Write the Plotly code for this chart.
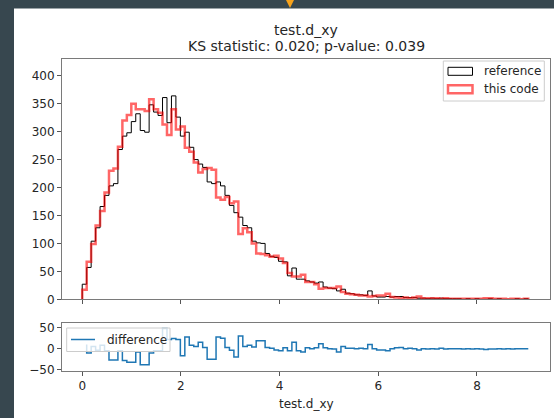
import numpy as np
import plotly.graph_objects as go

# ---------------- data ----------------
BIN_MIN = 0.0
BIN_MAX = 9.04
N_BINS = 100

reference_counts = [
    27, 57, 104, 128, 166, 186, 203, 207, 268, 292,
    298, 318, 332, 302, 299, 348, 335, 329, 361, 316,
    364, 326, 292, 299, 272, 250, 242, 236, 210, 207,
    210, 203, 186, 168, 155, 147, 132, 128, 104, 101,
    100, 82, 77, 75, 68, 67, 42, 56, 36, 36,
    33, 31, 29, 31, 22, 20, 19, 15, 18, 11,
    10, 8, 8, 7, 15, 6, 4, 4, 5, 4,
    5, 5, 3, 3, 3, 2, 2, 1, 2, 1,
    2, 1, 1, 1, 1, 0, 1, 0, 1, 0,
    0, 1, 0, 1, 0, 0, 0, 1, 0, 1,
]
this_code_counts = [
    17, 67, 99, 132, 158, 191, 230, 234, 273, 320,
    330, 350, 340, 340, 337, 358, 340, 334, 313, 294,
    340, 304, 309, 271, 264, 245, 227, 233, 235, 232,
    182, 178, 183, 172, 175, 117, 127, 120, 100, 82,
    81, 79, 76, 78, 73, 65, 47, 41, 41, 44,
    31, 31, 27, 19, 20, 20, 20, 23, 13, 10,
    9, 8, 7, 7, 5, 6, 7, 7, 10, 4,
    3, 2, 3, 2, 3, 5, 2, 2, 2, 2,
    1, 2, 1, 1, 1, 1, 1, 1, 1, 1,
    2, 2, 1, 1, 1, 0, 1, 1, 0, 1,
]

title_line1 = "test.d_xy"
title_line2 = "KS statistic: 0.020; p-value: 0.039"
x_label = "test.d_xy"
legend_labels = ["reference", "this code", "difference"]
x_ticks = [0, 2, 4, 6, 8]
y_ticks_main = [0, 50, 100, 150, 200, 250, 300, 350, 400]
y_ticks_diff = [-50, 0, 50]
y_ticks_diff_text = ["\u221250", "0", "50"]

# ---------------- derived ----------------
edges = np.linspace(BIN_MIN, BIN_MAX, N_BINS + 1)
ref = np.array(reference_counts, dtype=float)
cur = np.array(this_code_counts, dtype=float)
difference = ref - cur


def step_outline(counts):
    xs = np.concatenate([[edges[0]], edges[:-1], [edges[-1]]])
    ys = np.concatenate([[0.0], counts, [0.0]])
    return xs, ys


# ---------------- layout geometry ----------------
W, H = 554, 418
ML, MR, MT, MB = 62, 4, 59, 47
PW = W - ML - MR
PH = H - MT - MB
MAIN_BOTTOM_PX = 299.3
DIFF_TOP_PX = 323.0


def px_x(px):
    return (px - ML) / PW


def px_y(py):
    return (H - MB - py) / PH


FONT = "DejaVu Sans"
TXT = "#262626"
SPINE = "#7a7a7a"
DARK_BG = "#37474f"
RED = "rgba(255,0,0,0.6)"
BLUE = "#1f77b4"

fig = go.Figure()

rx, ry = step_outline(ref)
fig.add_trace(go.Scatter(x=rx, y=ry, mode="lines", line=dict(color="black", width=1, shape="hv"),
                         name=legend_labels[0], showlegend=False, xaxis="x", yaxis="y"))
cx, cy = step_outline(cur)
fig.add_trace(go.Scatter(x=cx, y=cy, mode="lines", line=dict(color=RED, width=2.5, shape="hv"),
                         name=legend_labels[1], showlegend=False, xaxis="x", yaxis="y"))
fig.add_trace(go.Scatter(x=edges[1:], y=difference, mode="lines",
                         line=dict(color=BLUE, width=1.5, shape="vh"),
                         name=legend_labels[2], showlegend=False, xaxis="x2", yaxis="y2"))

axis_common = dict(showgrid=False, zeroline=False, showline=True, mirror=True,
                   linecolor=SPINE, linewidth=1, ticks="outside", ticklen=4,
                   tickwidth=1, tickcolor="#555555",
                   tickfont=dict(family=FONT, size=12, color=TXT))

shapes = []
annotations = []

# white panel over dark page background, and the small orange marker on top
shapes.append(dict(type="rect", xref="paper", yref="paper", layer="below",
                   x0=px_x(14), x1=px_x(560), y0=px_y(8.5), y1=px_y(430),
                   fillcolor="white", line=dict(width=0)))
shapes.append(dict(type="path", xref="paper", yref="paper", layer="above",
                   path="M {a},{b} L {c},{b} L {d},{e} Z".format(
                       a=px_x(286), c=px_x(294), b=px_y(0), d=px_x(290), e=px_y(8)),
                   fillcolor="#f7a21b", line=dict(width=0)))

# titles
annotations.append(dict(text=title_line1, xref="paper", yref="paper", x=0.5, y=px_y(30),
                        showarrow=False, xanchor="center", yanchor="middle",
                        font=dict(family=FONT, size=14, color=TXT)))
annotations.append(dict(text=title_line2, xref="paper", yref="paper", x=0.5, y=px_y(46),
                        showarrow=False, xanchor="center", yanchor="middle",
                        font=dict(family=FONT, size=14, color=TXT)))

# main legend
shapes.append(dict(type="rect", xref="paper", yref="paper", layer="above",
                   x0=px_x(443.3), x1=px_x(544.3), y0=px_y(101), y1=px_y(61),
                   fillcolor="rgba(255,255,255,0.8)", line=dict(color="#cccccc", width=1)))
shapes.append(dict(type="rect", xref="paper", yref="paper", layer="above",
                   x0=px_x(448), x1=px_x(472.5), y0=px_y(75.3), y1=px_y(67.3),
                   fillcolor="rgba(0,0,0,0)", line=dict(color="black", width=1)))
shapes.append(dict(type="rect", xref="paper", yref="paper", layer="above",
                   x0=px_x(448), x1=px_x(472.5), y0=px_y(93.3), y1=px_y(85.3),
                   fillcolor="rgba(0,0,0,0)", line=dict(color=RED, width=2.5)))
annotations.append(dict(text=legend_labels[0], xref="paper", yref="paper", x=px_x(481.5), y=px_y(71.3),
                        showarrow=False, xanchor="left", yanchor="middle",
                        font=dict(family=FONT, size=12, color=TXT)))
annotations.append(dict(text=legend_labels[1], xref="paper", yref="paper", x=px_x(481.5), y=px_y(89.3),
                        showarrow=False, xanchor="left", yanchor="middle",
                        font=dict(family=FONT, size=12, color=TXT)))

# difference legend
shapes.append(dict(type="rect", xref="paper", yref="paper", layer="above",
                   x0=px_x(66.7), x1=px_x(170), y0=px_y(351.5), y1=px_y(328),
                   fillcolor="rgba(255,255,255,0.8)", line=dict(color="#cccccc", width=1)))
shapes.append(dict(type="line", xref="paper", yref="paper", layer="above",
                   x0=px_x(71), x1=px_x(95), y0=px_y(339.5), y1=px_y(339.5),
                   line=dict(color=BLUE, width=1.5)))
annotations.append(dict(text=legend_labels[2], xref="paper", yref="paper", x=px_x(104.5), y=px_y(339.5),
                        showarrow=False, xanchor="left", yanchor="middle",
                        font=dict(family=FONT, size=12, color=TXT)))

# x-axis label
annotations.append(dict(text=x_label, xref="paper", yref="paper", x=0.5, y=px_y(404),
                        showarrow=False, xanchor="center", yanchor="middle",
                        font=dict(family=FONT, size=12, color=TXT)))

x_range = [-0.41, 9.48]
fig.update_layout(
    width=W, height=H,
    margin=dict(l=ML, r=MR, t=MT, b=MB, pad=0),
    paper_bgcolor=DARK_BG, plot_bgcolor="white",
    showlegend=False,
    font=dict(family=FONT, size=12, color=TXT),
    xaxis=dict(domain=[0, 1], anchor="y", range=x_range, tickvals=x_ticks,
               showticklabels=False, **axis_common),
    yaxis=dict(domain=[px_y(MAIN_BOTTOM_PX), 1], anchor="x", range=[0, 430],
               tickvals=y_ticks_main, **axis_common),
    xaxis2=dict(domain=[0, 1], anchor="y2", range=x_range, tickvals=x_ticks,
                **axis_common),
    yaxis2=dict(domain=[0, px_y(DIFF_TOP_PX)], anchor="x2", range=[-53, 61],
                tickvals=y_ticks_diff, ticktext=y_ticks_diff_text, **axis_common),
    shapes=shapes,
    annotations=annotations,
)

fig.write_html(
    "out.html",
    config={"displayModeBar": False},
    post_script="document.body.style.margin='0';document.body.style.overflow='hidden';",
)
